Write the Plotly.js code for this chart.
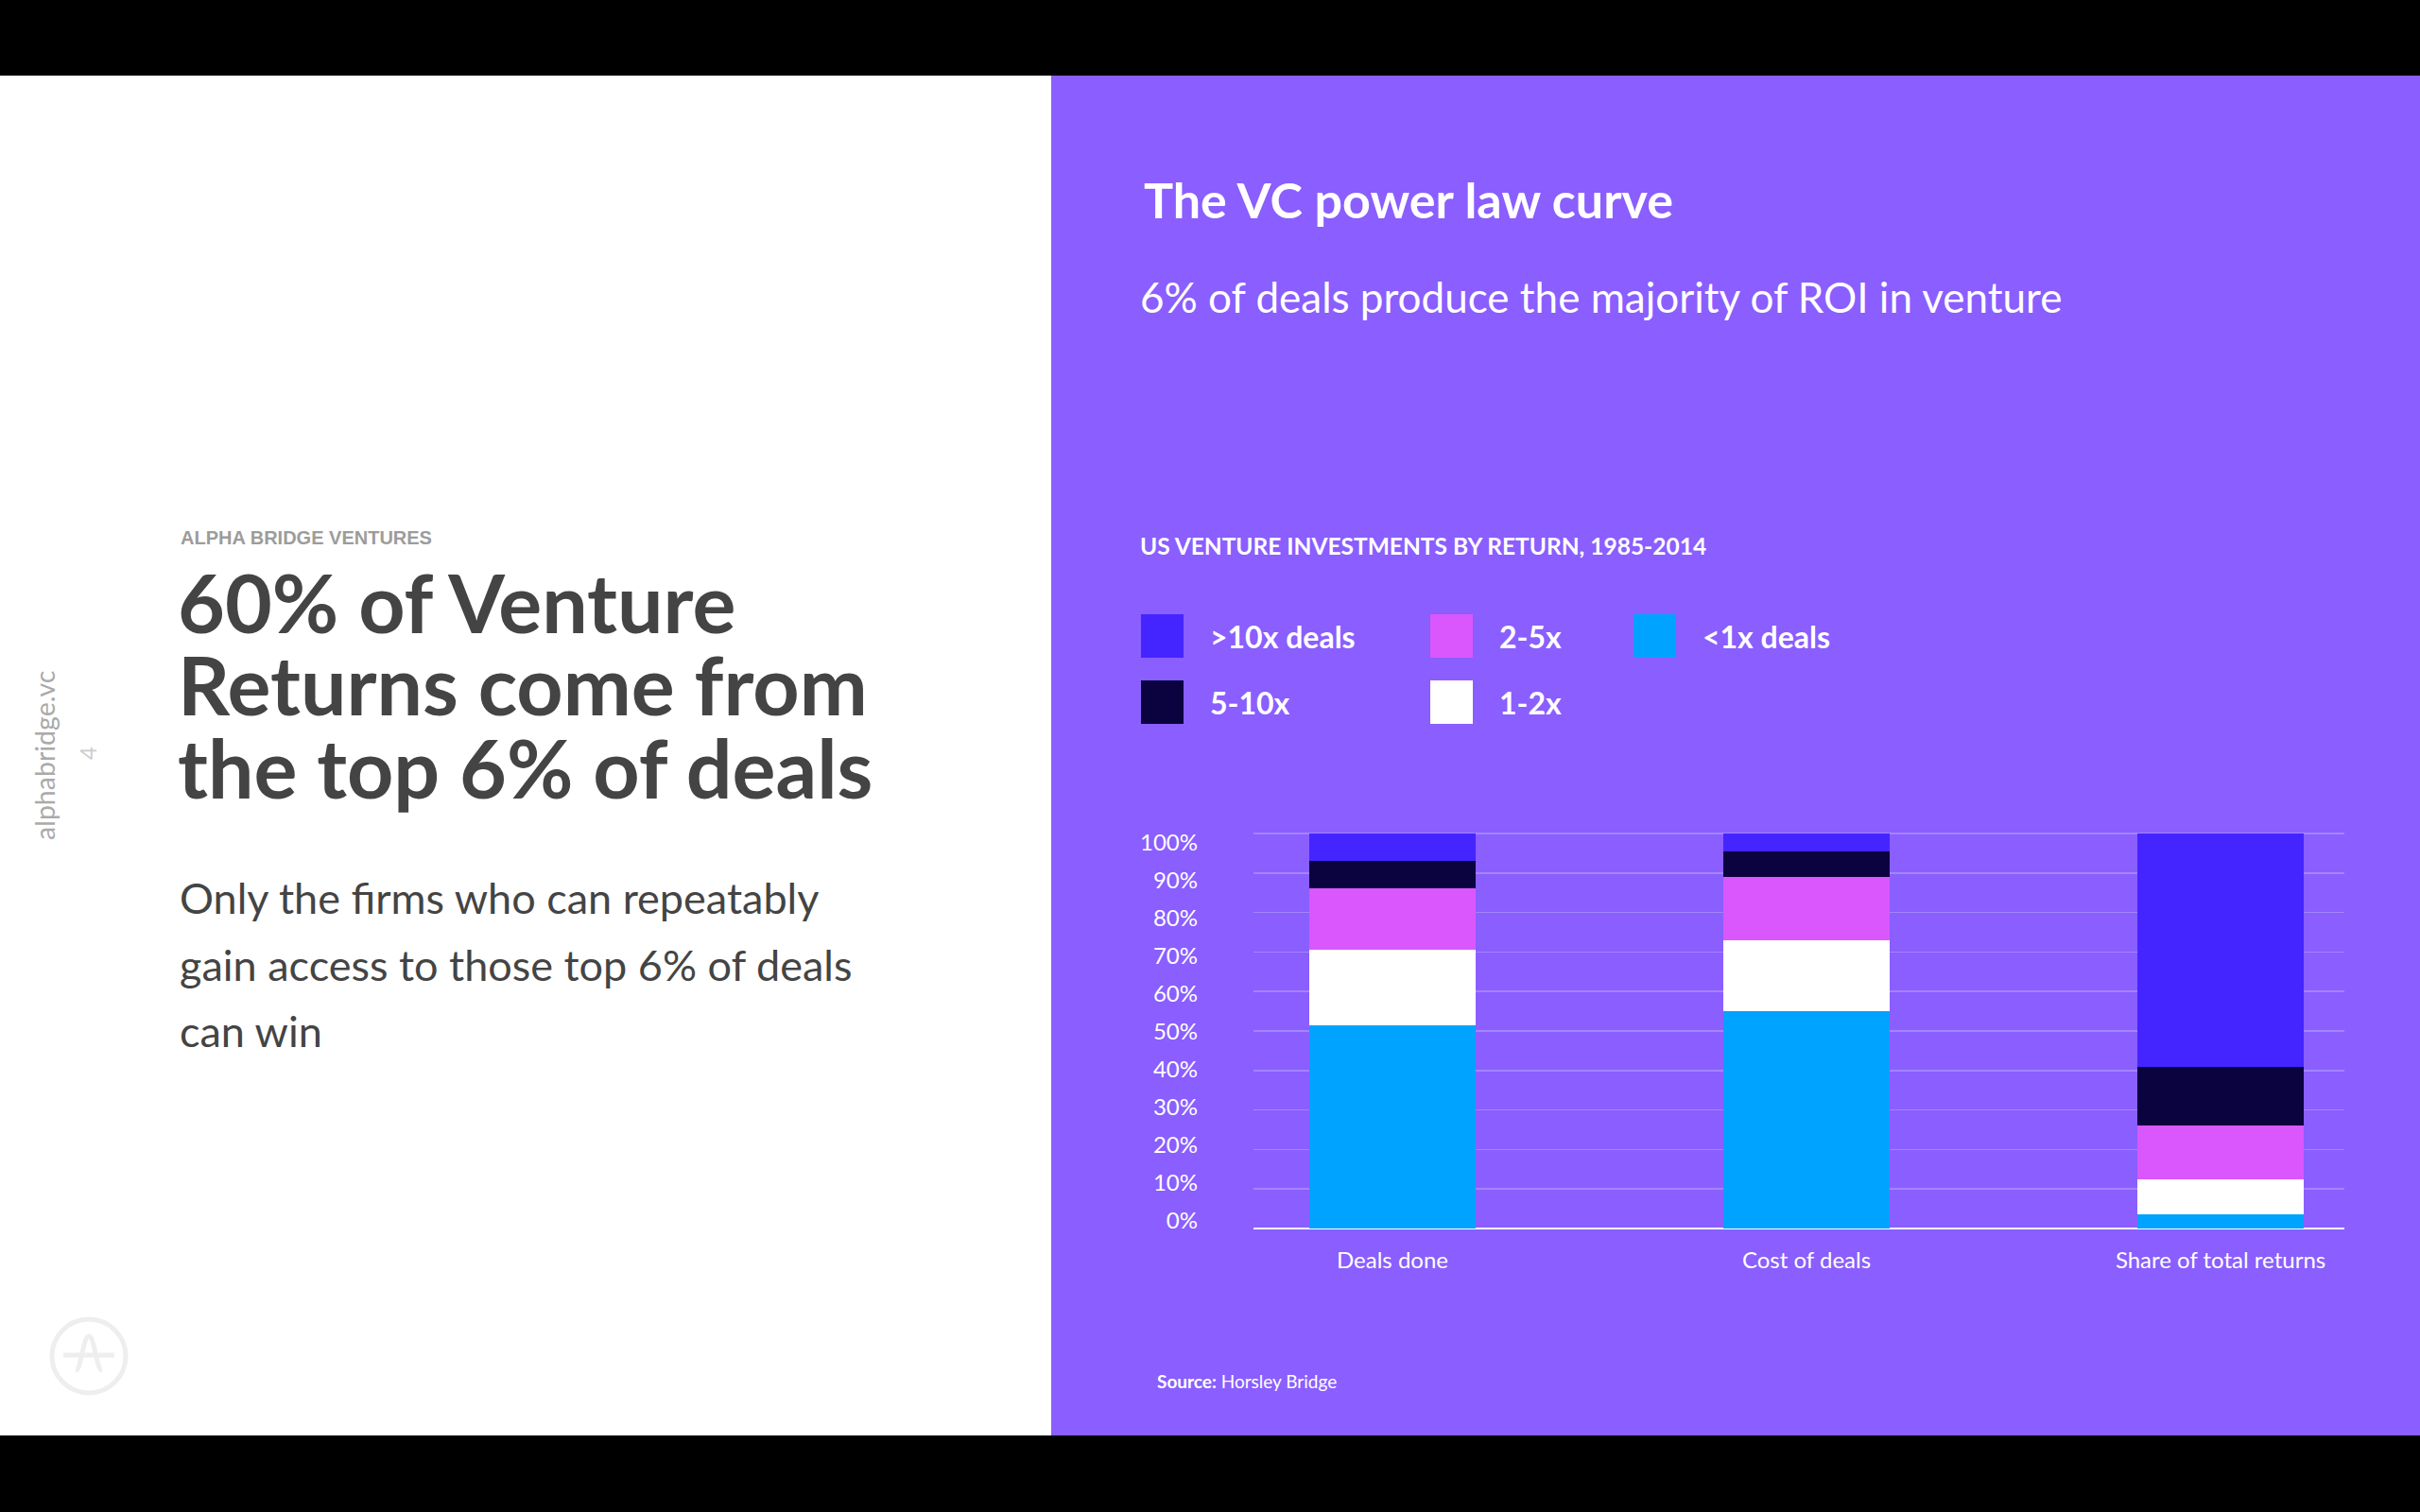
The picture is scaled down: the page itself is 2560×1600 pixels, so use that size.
<!DOCTYPE html>
<html>
<head>
<meta charset="utf-8">
<script src="https://cdn.plot.ly/plotly-3.0.1.min.js"></script>
<style>
  html, body { margin: 0; padding: 0; background: #000; }
  #chart { width: 2560px; height: 1600px; }
</style>
</head>
<body>
<div id="chart"></div>
<script>
// ---------- DATA ----------
const categories = ['Deals done', 'Cost of deals', 'Share of total returns'];
const seriesNames = ['<1x deals', '1-2x', '2-5x', '5-10x', '>10x deals'];
const under1x  = [51.4, 55.0, 3.5];
const x1to2    = [19.2, 18.0, 8.9];
const x2to5    = [15.5, 16.0, 13.7];
const x5to10   = [7.0, 6.5, 14.8];
const over10x  = [6.9, 4.5, 59.1];
const seriesValues = [under1x, x1to2, x2to5, x5to10, over10x];
const seriesColors = ['#00A3FF', '#FFFFFF', '#D957FC', '#0A0340', '#4425FF'];
const legendOrder = ['>10x deals', '5-10x', '2-5x', '1-2x', '<1x deals'];
const yTickVals = [0, 10, 20, 30, 40, 50, 60, 70, 80, 90, 100];
const yTickText = ['0%', '10%', '20%', '30%', '40%', '50%', '60%', '70%', '80%', '90%', '100%'];

const slideTitle = 'The VC power law curve';
const slideSubtitle = '6% of deals produce the majority of ROI in venture';
const chartTitle = 'US VENTURE INVESTMENTS BY RETURN, 1985-2014';
const kicker = 'ALPHA BRIDGE VENTURES';
const headlineLines = ['60% of Venture', 'Returns come from', 'the top 6% of deals'];
const bodyLines = ['Only the firms who can repeatably', 'gain access to those top 6% of deals', 'can win'];
const sideText = 'alphabridge.vc';
const pageNumber = '4';

// ---------- HELPERS ----------
const W = 2560, H = 1600;
const px = x => x / W;
const py = y => 1 - y / H;
const esc = s => s.replace(/</g, '&lt;').replace(/>/g, '&gt;');
const FONT = 'Lato, "Open Sans", sans-serif';
const PURPLE = '#8A5EFF';

function txt(text, x, y, size, color, weight, extra) {
  return Object.assign({
    text: text, x: px(x), y: py(y), xref: 'paper', yref: 'paper',
    xanchor: 'left', yanchor: 'middle', showarrow: false,
    font: { family: FONT, size: size, color: color, weight: weight || 400 }
  }, extra || {});
}

// ---------- TRACES ----------
const traces = seriesNames.map((name, i) => ({
  type: 'bar',
  name: name,
  x: categories,
  y: seriesValues[i],
  marker: { color: seriesColors[i], line: { width: 0 } },
  hoverinfo: 'x+y+name'
}));

// ---------- SHAPES ----------
const shapes = [
  { type: 'rect', xref: 'paper', yref: 'paper', layer: 'below',
    x0: 0, x1: px(1112), y0: py(1519), y1: py(80), fillcolor: '#FFFFFF', line: { width: 0 } },
  { type: 'rect', xref: 'paper', yref: 'paper', layer: 'below',
    x0: px(1112), x1: 1, y0: py(1519), y1: py(80), fillcolor: PURPLE, line: { width: 0 } },
  // logo
  { type: 'circle', xref: 'paper', yref: 'paper',
    x0: px(55), x1: px(133), y0: py(1474), y1: py(1396), line: { color: '#EEEEEE', width: 5 } },
  { type: 'path', xref: 'paper', yref: 'paper', line: { color: '#EEEEEE', width: 5 },
    path: `M${px(67)},${py(1434)} L${px(121)},${py(1434)} M${px(80)},${py(1450)} C${px(86)},${py(1450)} ${px(88)},${py(1414)} ${px(94)},${py(1414)} C${px(100)},${py(1414)} ${px(102)},${py(1450)} ${px(108)},${py(1450)}` }
];

// legend swatches + labels built from the series
const legendColX = [1207, 1513, 1728];
const legendRowY = [673, 743];
const annotations = [];
legendOrder.forEach((name, k) => {
  const idx = seriesNames.indexOf(name);
  const col = Math.floor(k / 2), row = k % 2;
  const cx = legendColX[col], cy = legendRowY[row];
  shapes.push({ type: 'rect', xref: 'paper', yref: 'paper',
    x0: px(cx), x1: px(cx + 45), y0: py(cy + 23), y1: py(cy - 23),
    fillcolor: seriesColors[idx], line: { width: 0 } });
  annotations.push(txt(esc(name), cx + 71, cy, 32, '#FFFFFF', 700));
});

// ---------- TEXT ----------
annotations.push(txt(slideTitle, 1208, 211, 52, '#FFFFFF', 700));
annotations.push(txt(slideSubtitle, 1204, 314, 44, '#FFFFFF', 400));
annotations.push(txt(chartTitle, 1204, 577, 24.5, '#FFFFFF', 700));
annotations.push(txt('<b>Source:</b> Horsley Bridge', 1222, 1461, 19, '#FFFFFF', 400));

annotations.push(txt(kicker, 189, 569, 20, '#9C9C9C', 700,
  { font: { family: '"Liberation Sans", Arial, sans-serif', size: 20, color: '#9C9C9C', weight: 700 } }));
headlineLines.forEach((line, i) => {
  annotations.push(txt(line, 186, 636 + i * 87.5, 86, '#444444', 700));
});
bodyLines.forEach((line, i) => {
  annotations.push(txt(line, 188, 950 + i * 70.5, 45, '#444444', 400));
});
annotations.push(txt(sideText, 47, 800, 28.5, '#AAAAAA', 400, { xanchor: 'center', textangle: -90 }));
annotations.push(txt(pageNumber, 93, 797, 24, '#CCCCCC', 400, { xanchor: 'center', textangle: -90 }));

// ---------- LAYOUT ----------
const yTop = 101;                 // small headroom so the 100% gridline is drawn
const pxPerUnit = (1300 - 882) / 100;
// In the reference the tick labels sit on a slightly tighter scale than the gridlines:
// label for value v is centred at pixel 1291.5 - 4.0*v, gridline at 1300 - 4.18*v.
const labelPxPerUnit = 4.0, labelZeroPx = 1291.5;
const labelPos = yTickVals.map(v => (1300 - labelZeroPx + labelPxPerUnit * v) / pxPerUnit);

const layout = {
  width: W, height: H,
  margin: { l: 0, r: 0, t: 0, b: 0, pad: 0 },
  paper_bgcolor: '#000000',
  plot_bgcolor: PURPLE,
  barmode: 'stack',
  bargap: 0.6,
  showlegend: false,
  font: { family: FONT, color: '#FFFFFF' },
  xaxis: {
    domain: [px(1326), px(2480)],
    type: 'category',
    range: [-0.3356, 2.299],
    showgrid: false, zeroline: false, showline: false,
    ticks: '',
    tickfont: { family: FONT, size: 24, color: '#FFFFFF' },
    ticklabelstandoff: 17,
    fixedrange: true
  },
  yaxis: {
    domain: [py(1300), py(1300 - yTop * pxPerUnit)],
    range: [0, yTop],
    tickmode: 'array',
    tickvals: labelPos,
    ticktext: yTickText,
    showgrid: false,
    minor: { tickmode: 'array', tickvals: yTickVals, showgrid: true,
             gridcolor: '#A385FF', gridwidth: 1.5, ticks: '' },
    zeroline: true, zerolinecolor: '#FFFFFF', zerolinewidth: 2,
    showline: false, ticks: '',
    tickfont: { family: FONT, size: 24, color: '#FFFFFF' },
    ticklabelstandoff: 58,
    fixedrange: true
  },
  shapes: shapes,
  annotations: annotations
};

Plotly.newPlot('chart', traces, layout, { displayModeBar: false, staticPlot: true });
</script>
</body>
</html>
